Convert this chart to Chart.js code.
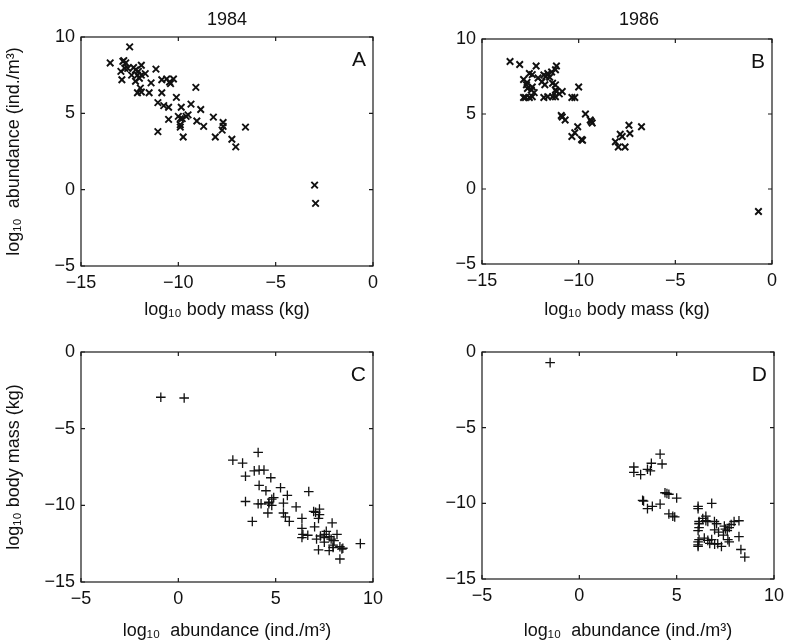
<!DOCTYPE html>
<html>
<head>
<meta charset="utf-8">
<script src="https://cdn.jsdelivr.net/npm/chart.js@4.4.1/dist/chart.umd.min.js"></script>
<style>
  body { margin: 0; background: #fff; width: 794px; height: 642px; position: relative; overflow: hidden; }
  canvas { position: absolute; }
</style>
</head>
<body>
<canvas id="chartA" width="400" height="321" style="left:0;top:0"></canvas>
<canvas id="chartB" width="394" height="321" style="left:400px;top:0"></canvas>
<canvas id="chartC" width="400" height="321" style="left:0;top:321px"></canvas>
<canvas id="chartD" width="394" height="321" style="left:400px;top:321px"></canvas>
<script>
// 1984 samples: log10 body mass (kg) and log10 abundance (ind./m3)
const mass84 = [-13.5, -12.5, -12.85, -12.7, -12.8, -12.95, -12.9, -12.75, -12.4, -12.2,
  -12.05, -11.9, -12.1, -11.9, -11.7, -12.1, -11.95, -11.9, -11.5, -11.4,
  -11.15, -10.85, -10.85, -10.6, -10.45, -10.4, -10.25, -11.05, -10.75, -10.5,
  -11.05, -10.1, -9.85, -10.0, -9.9, -9.8, -9.9, -9.9, -9.75, -9.6,
  -9.5, -9.35, -9.1, -9.05, -8.85, -8.7, -8.2, -8.1, -7.7, -7.7,
  -7.75, -7.25, -7.05, -6.55, -3.0, -2.95, -12.2, -12.6, -10.5, -12.3, -12.0];
const abund84 = [8.3, 9.35, 8.4, 8.3, 8.45, 7.75, 7.2, 7.95, 7.5, 7.85,
  7.75, 8.15, 7.5, 7.5, 7.6, 6.35, 6.65, 6.4, 6.35, 7.0,
  7.9, 7.2, 6.35, 7.25, 7.05, 6.95, 7.25, 5.7, 5.5, 4.6,
  3.8, 6.05, 5.4, 4.8, 4.65, 4.65, 4.25, 4.1, 3.45, 4.8,
  4.9, 5.6, 6.7, 4.5, 5.25, 4.15, 4.75, 3.45, 4.4, 4.15,
  3.9, 3.3, 2.8, 4.1, 0.3, -0.9, 7.1, 7.95, 5.4, 8.0, 7.3];

// 1986 samples
const mass86 = [-13.55, -13.05, -12.2, -12.55, -12.85, -12.7, -12.65, -12.85, -12.75, -12.55,
  -12.4, -12.45, -12.1, -11.9, -11.8, -11.7, -11.6, -11.75, -11.6, -11.4,
  -11.15, -11.35, -11.2, -11.15, -11.35, -11.2, -10.85, -10.35, -10.2, -10.0,
  -10.9, -10.85, -10.7, -9.65, -9.4, -9.3, -9.35, -10.05, -10.2, -10.35,
  -9.85, -9.8, -8.1, -7.85, -7.75, -7.95, -7.6, -7.4, -7.35, -6.75,
  -0.7, -12.3, -12.4, -12.67, -11.5, -12.4, -11.2, -11.8, -11.0, -11.2];
const abund86 = [8.5, 8.3, 8.2, 7.7, 7.3, 6.95, 6.7, 6.1, 6.1, 6.1,
  6.15, 6.6, 7.4, 7.15, 7.6, 7.5, 7.7, 6.95, 6.15, 7.8,
  8.2, 7.05, 6.6, 6.5, 6.15, 6.15, 6.5, 6.1, 6.1, 6.8,
  4.9, 4.8, 4.6, 5.0, 4.6, 4.4, 4.5, 4.15, 3.75, 3.5,
  3.3, 3.25, 3.15, 3.65, 3.5, 2.8, 2.8, 4.25, 3.7, 4.15,
  -1.5, 6.42, 6.8, 7.11, 7.45, 7.63, 7.95, 6.1, 6.34, 6.94];

const massRange = [-15, 0];
const abundRange = [-5, 10];
const tickStep = 5;

const massLabel = "log\u2081\u2080 body mass (kg)";
const abundLabel = "log\u2081\u2080  abundance (ind./m\u00b3)";

Chart.defaults.font.family = '"Liberation Sans", Arial, Helvetica, sans-serif';
Chart.defaults.color = "#111";

const ink = "#111";
const minus = (v) => String(v).replace("-", "\u2212");

// boxed frame with inward ticks on all four sides, plus panel letter and year
const frameTicks = {
  id: "frameTicks",
  afterDraw(chart, args, opts) {
    const { ctx, chartArea: a, scales: { x, y } } = chart;
    ctx.save();
    ctx.strokeStyle = "#1a1a1a";
    ctx.lineWidth = 1.2;
    ctx.strokeRect(a.left, a.top, a.right - a.left, a.bottom - a.top);
    ctx.beginPath();
    x.ticks.forEach((t) => {
      const px = x.getPixelForValue(t.value);
      ctx.moveTo(px, a.bottom); ctx.lineTo(px, a.bottom - 4);
      ctx.moveTo(px, a.top); ctx.lineTo(px, a.top + 4);
    });
    y.ticks.forEach((t) => {
      const py = y.getPixelForValue(t.value);
      ctx.moveTo(a.left, py); ctx.lineTo(a.left + 4, py);
      ctx.moveTo(a.right, py); ctx.lineTo(a.right - 4, py);
    });
    ctx.stroke();
    ctx.fillStyle = ink;
    ctx.font = '21px "Liberation Sans", Arial, sans-serif';
    ctx.textAlign = "right";
    ctx.textBaseline = "middle";
    ctx.fillText(opts.letter, a.right - 7, a.top + 23);
    if (opts.year) {
      ctx.font = '18px "Liberation Sans", Arial, sans-serif';
      ctx.textAlign = "center";
      ctx.fillText(opts.year, (a.left + a.right) / 2 + opts.yearShift, 20);
    }
    ctx.restore();
  },
};

function makePanel(id, xs, ys, p) {
  const canvas = document.getElementById(id);
  const W = canvas.width, H = canvas.height;
  const points = xs.map((v, i) => ({ x: v, y: ys[i] }));
  new Chart(canvas, {
    type: "scatter",
    data: {
      datasets: [{
        data: points,
        pointStyle: p.marker,
        pointRadius: p.radius,
        borderColor: ink,
        backgroundColor: ink,
        borderWidth: p.lineWidth,
      }],
    },
    options: {
      responsive: false,
      animation: false,
      events: [],
      layout: { padding: { left: 0, top: p.area[1], right: W - p.area[2], bottom: 0 } },
      plugins: {
        legend: { display: false },
        tooltip: { enabled: false },
        frameTicks: { letter: p.letter, year: p.year, yearShift: p.yearShift || 0 },
      },
      scales: {
        x: {
          type: "linear",
          min: p.xRange[0],
          max: p.xRange[1],
          grid: { display: false, drawTicks: false },
          border: { display: false },
          ticks: { stepSize: tickStep, padding: 6, callback: minus, font: { size: 18 }, color: ink },
          title: { display: true, text: p.xTitle, font: { size: 18, lineHeight: 1.2 }, color: ink, padding: { top: 0, bottom: 0 } },
          afterFit: (s) => { s.height = H - p.area[3]; },
        },
        y: {
          type: "linear",
          min: p.yRange[0],
          max: p.yRange[1],
          grid: { display: false, drawTicks: false },
          border: { display: false },
          ticks: { stepSize: tickStep, padding: 6, callback: minus, font: { size: 18 }, color: ink },
          title: { display: !!p.yTitle, text: p.yTitle || "", font: { size: 18, lineHeight: 1.2 }, color: ink, padding: { top: 3, bottom: 0 } },
          afterFit: (s) => { s.width = p.area[0]; },
        },
      },
    },
    plugins: [frameTicks],
  });
}

makePanel("chartA", mass84, abund84, {
  area: [81, 37, 373, 266], xRange: massRange, yRange: abundRange,
  xTitle: massLabel, yTitle: abundLabel, letter: "A", year: "1984",
  marker: "crossRot", radius: 4.6, lineWidth: 1.9,
});
makePanel("chartB", mass86, abund86, {
  area: [82, 39, 372, 264], xRange: massRange, yRange: abundRange,
  xTitle: massLabel, letter: "B", year: "1986", yearShift: 12,
  marker: "crossRot", radius: 4.6, lineWidth: 1.9,
});
makePanel("chartC", abund84, mass84, {
  area: [81, 31, 373, 261], xRange: abundRange, yRange: [-15, 0],
  xTitle: abundLabel, yTitle: massLabel, letter: "C",
  marker: "cross", radius: 4.8, lineWidth: 1.3,
});
makePanel("chartD", abund86, mass86, {
  area: [82, 31, 374, 258], xRange: abundRange, yRange: [-15, 0],
  xTitle: abundLabel, letter: "D",
  marker: "cross", radius: 4.8, lineWidth: 1.3,
});
</script>
</body>
</html>
